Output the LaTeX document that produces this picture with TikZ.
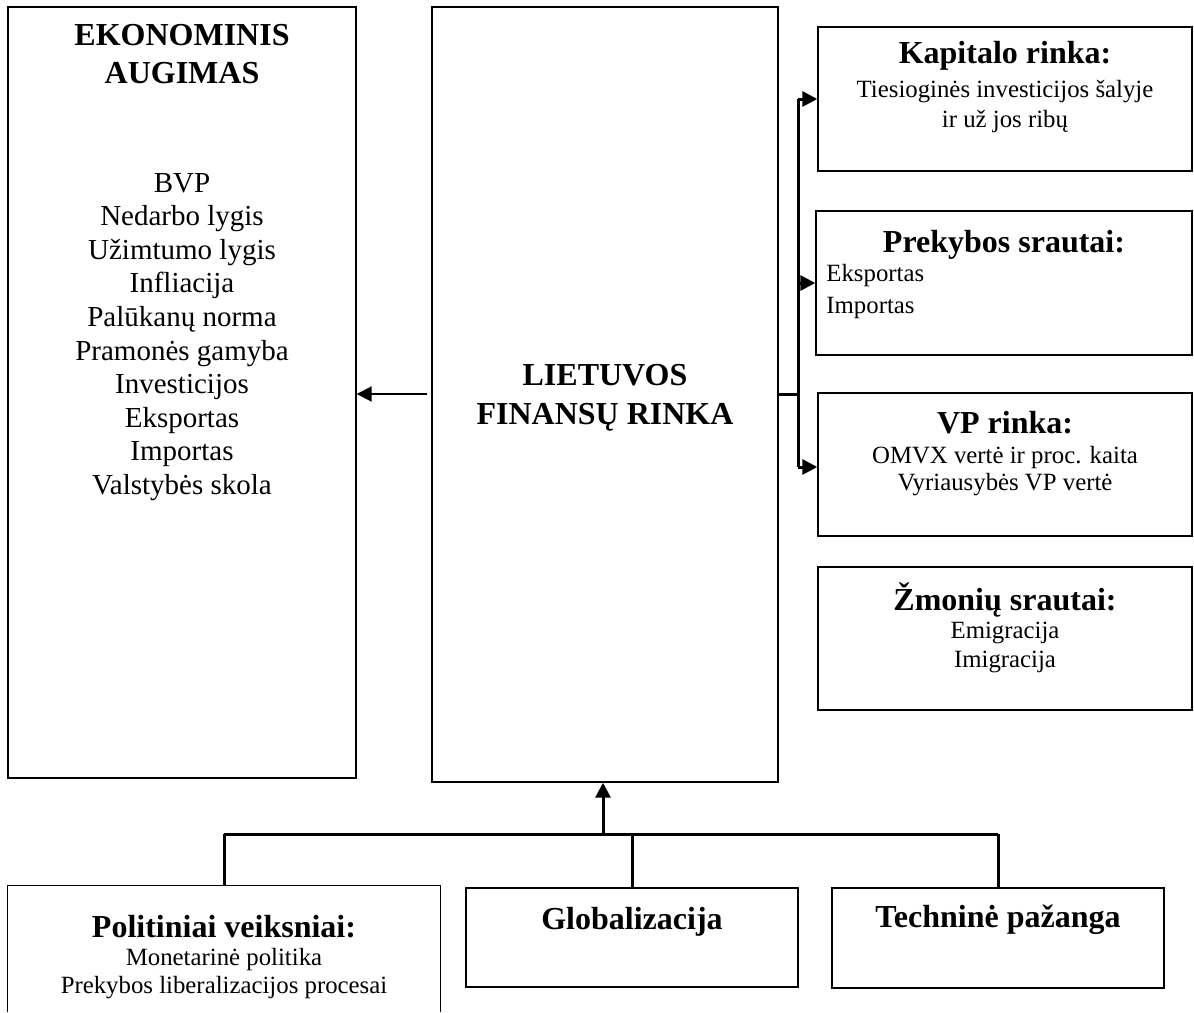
\documentclass[tikz,border=0pt]{standalone}
\usepackage{fontspec}
\setmainfont{Liberation Serif}
\usetikzlibrary{arrows.meta,fit}
\begin{document}
\begin{tikzpicture}[x=0.5pt,y=-0.5pt,
  box/.style={draw, line width=0.7pt, inner sep=0pt},
  hidden/.style={inner sep=0pt},
  ttl/.style={font=\fontsize{16}{19}\selectfont\bfseries, inner sep=0pt, anchor=base},
  bodyL/.style={font=\fontsize{14.5}{17}\selectfont, inner sep=0pt, anchor=base},
  bodyS/.style={font=\fontsize{12.4}{15}\selectfont, inner sep=0pt, anchor=base},
  conn/.style={line width=1.5pt},
  arr/.style={line width=1.5pt, -{Triangle[length=7.5pt,width=7.5pt]}},
  arrthin/.style={line width=1pt, -{Triangle[length=7.5pt,width=7.5pt]}}
]
\useasboundingbox (0,0) rectangle (1194,1012);
% boxes
\node[box, fit={(8,7) (356,778)}] (eko) {};
\node[box, fit={(432,7) (778,782)}] (fin) {};
\node[box, fit={(818,27) (1192,171)}] (kap) {};
\node[box, fit={(816,211) (1192,355)}] (prek) {};
\node[box, fit={(818,393) (1192,536)}] (vp) {};
\node[box, fit={(818,567) (1192,710)}] (zmon) {};
\node[hidden, fit={(8,886) (440,1012)}] (pol) {};
\draw[line width=0.7pt] (pol.south west) |- (pol.north east) -- (pol.south east);
\node[box, fit={(466,888) (798,987)}] (glob) {};
\node[box, fit={(832,888) (1164,988)}] (tech) {};
% left box text
\node[ttl] (e1) at (182,46) {EKONOMINIS};
\node[ttl] (e2) at (182,83) {AUGIMAS};
\foreach \t [count=\i from 0] in {BVP, Nedarbo lygis, Užimtumo lygis, Infliacija, Palūkanų norma, Pramonės gamyba, Investicijos, Eksportas, Importas, Valstybės skola}
  \node[bodyL] (l\i) at (182,192+33.6*\i) {\t};
% center
\node[ttl] (c1) at (605,385) {LIETUVOS};
\node[ttl] (c2) at (605,424) {FINANSŲ RINKA};
% right boxes
\node[ttl] (k1) at (1005,63) {Kapitalo rinka:};
\node[bodyS] (k2) at (1005,97) {Tiesioginės investicijos šalyje};
\node[bodyS] (k3) at (1005,127) {ir už jos ribų};
\node[ttl] (p1) at (1004,252) {Prekybos srautai:};
\node[bodyS, anchor=base west] (p2) at (826,281) {Eksportas};
\node[bodyS, anchor=base west] (p3) at (826,313) {Importas};
\node[ttl] (v1) at (1005,433) {VP rinka:};
\node[bodyS] (v2) at (1005,463) {OMVX vertė ir proc. kaita};
\node[bodyS] (v3) at (1005,490) {Vyriausybės VP vertė};
\node[ttl] (z1) at (1005,610) {Žmonių srautai:};
\node[bodyS] (z2) at (1005,638) {Emigracija};
\node[bodyS] (z3) at (1005,667) {Imigracija};
% bottom
\node[ttl] (b1) at (224,937) {Politiniai veiksniai:};
\node[bodyS] (b2) at (224,965) {Monetarinė politika};
\node[bodyS] (b3) at (224,993) {Prekybos liberalizacijos procesai};
\node[ttl] (g1) at (632,929) {Globalizacija};
\node[ttl] (t1) at (998,927) {Techninė pažanga};
% right connectors
\coordinate (br) at (798,394);
\coordinate (bt) at (798,99);
\coordinate (bm) at (798,283);
\coordinate (bb) at (798,467);
\draw[conn] (br -| fin.east) -- (br);
\draw[conn] (bt) -- (bb);
\draw[arr] (bt) -- (bt -| kap.west);
\draw[arr] (bm) -- (bm -| prek.west);
\draw[arr] (bb) -- (bb -| vp.west);
% left arrow
\coordinate (la) at (427,394);
\draw[arrthin] (la) -- (la -| eko.east);
% bottom connectors
\coordinate (hl) at (224,834);
\coordinate (hr) at (998,834);
\coordinate (hm) at (603,834);
\draw[conn] (hl) -- (hr);
\draw[arr] (hm) -- (hm |- fin.south);
\draw[conn] (pol.north) -- (pol.north |- hl);
\draw[conn] (glob.north) -- (glob.north |- hl);
\draw[conn] (tech.north) -- (tech.north |- hr);
\end{tikzpicture}
\end{document}
